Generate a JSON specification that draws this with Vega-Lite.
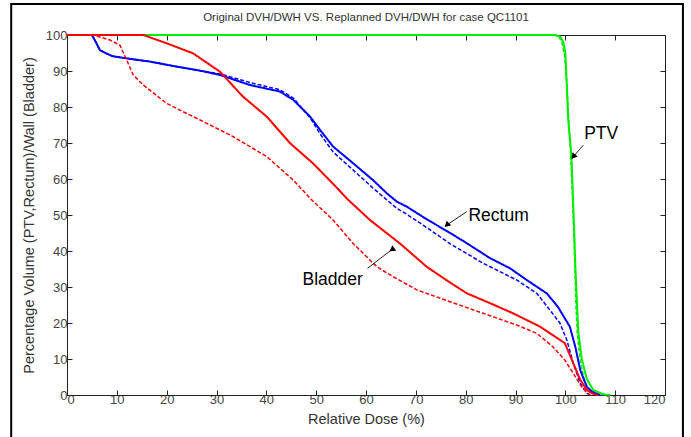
{
  "$schema": "https://vega.github.io/schema/vega-lite/v6.json",
  "width": 598,
  "height": 360,
  "autosize": {"type": "none"},
  "padding": {"left": 67, "top": 35, "right": 26, "bottom": 42},
  "background": "white",
  "title": {"text": "Original DVH/DWH VS. Replanned DVH/DWH for case QC1101", "font": "Liberation Sans", "fontSize": 11.5, "fontWeight": "normal", "color": "#333333", "anchor": "middle", "frame": "group", "offset": -20},
  "config": {
    "view": {"stroke": null},
    "axis": {"grid": false, "domainColor": "#222222", "domainWidth": 1, "tickColor": "#222222", "tickSize": -5, "tickWidth": 1, "labelFont": "Liberation Sans", "labelFontSize": 13, "labelColor": "#444444", "titleFont": "Liberation Sans", "titleFontSize": 14.5, "titleFontWeight": "normal", "titleColor": "#333333"}
  },
  "datasets": {
    "curves": [
      {"organ": "PTV", "plan": "Original", "dose": 0, "volume": 100},
      {"organ": "PTV", "plan": "Original", "dose": 98, "volume": 100},
      {"organ": "PTV", "plan": "Original", "dose": 99, "volume": 99.5},
      {"organ": "PTV", "plan": "Original", "dose": 99.6, "volume": 98},
      {"organ": "PTV", "plan": "Original", "dose": 100, "volume": 95},
      {"organ": "PTV", "plan": "Original", "dose": 100.3, "volume": 86},
      {"organ": "PTV", "plan": "Original", "dose": 100.6, "volume": 76},
      {"organ": "PTV", "plan": "Original", "dose": 101.2, "volume": 67},
      {"organ": "PTV", "plan": "Original", "dose": 101.5, "volume": 56},
      {"organ": "PTV", "plan": "Original", "dose": 101.8, "volume": 45},
      {"organ": "PTV", "plan": "Original", "dose": 102, "volume": 36},
      {"organ": "PTV", "plan": "Original", "dose": 102.3, "volume": 26.5},
      {"organ": "PTV", "plan": "Original", "dose": 102.6, "volume": 17.5},
      {"organ": "PTV", "plan": "Original", "dose": 103.3, "volume": 10},
      {"organ": "PTV", "plan": "Original", "dose": 104.3, "volume": 4.5},
      {"organ": "PTV", "plan": "Original", "dose": 105.6, "volume": 1.4},
      {"organ": "PTV", "plan": "Original", "dose": 107.6, "volume": 0.2},
      {"organ": "PTV", "plan": "Original", "dose": 109, "volume": 0},
      {"organ": "PTV", "plan": "Replanned", "dose": 0, "volume": 100},
      {"organ": "PTV", "plan": "Replanned", "dose": 97.8, "volume": 100},
      {"organ": "PTV", "plan": "Replanned", "dose": 98.8, "volume": 99.3},
      {"organ": "PTV", "plan": "Replanned", "dose": 99.4, "volume": 97.5},
      {"organ": "PTV", "plan": "Replanned", "dose": 99.9, "volume": 94},
      {"organ": "PTV", "plan": "Replanned", "dose": 100.3, "volume": 86},
      {"organ": "PTV", "plan": "Replanned", "dose": 100.7, "volume": 76},
      {"organ": "PTV", "plan": "Replanned", "dose": 101.1, "volume": 66},
      {"organ": "PTV", "plan": "Replanned", "dose": 101.4, "volume": 56},
      {"organ": "PTV", "plan": "Replanned", "dose": 101.7, "volume": 45},
      {"organ": "PTV", "plan": "Replanned", "dose": 101.9, "volume": 36},
      {"organ": "PTV", "plan": "Replanned", "dose": 102.1, "volume": 26},
      {"organ": "PTV", "plan": "Replanned", "dose": 102.4, "volume": 17},
      {"organ": "PTV", "plan": "Replanned", "dose": 103, "volume": 9.5},
      {"organ": "PTV", "plan": "Replanned", "dose": 103.8, "volume": 4},
      {"organ": "PTV", "plan": "Replanned", "dose": 104.8, "volume": 1.2},
      {"organ": "PTV", "plan": "Replanned", "dose": 106, "volume": 0.2},
      {"organ": "PTV", "plan": "Replanned", "dose": 107, "volume": 0},
      {"organ": "Rectum", "plan": "Original", "dose": 0, "volume": 100},
      {"organ": "Rectum", "plan": "Original", "dose": 5, "volume": 100},
      {"organ": "Rectum", "plan": "Original", "dose": 5.8, "volume": 98},
      {"organ": "Rectum", "plan": "Original", "dose": 6.6, "volume": 95.8},
      {"organ": "Rectum", "plan": "Original", "dose": 8, "volume": 94.8},
      {"organ": "Rectum", "plan": "Original", "dose": 9.2, "volume": 94.1},
      {"organ": "Rectum", "plan": "Original", "dose": 12, "volume": 93.5},
      {"organ": "Rectum", "plan": "Original", "dose": 16.7, "volume": 92.6},
      {"organ": "Rectum", "plan": "Original", "dose": 21.3, "volume": 91.4},
      {"organ": "Rectum", "plan": "Original", "dose": 26.7, "volume": 90.1},
      {"organ": "Rectum", "plan": "Original", "dose": 30.7, "volume": 88.9},
      {"organ": "Rectum", "plan": "Original", "dose": 36.7, "volume": 86.1},
      {"organ": "Rectum", "plan": "Original", "dose": 42.7, "volume": 84.3},
      {"organ": "Rectum", "plan": "Original", "dose": 45.4, "volume": 82},
      {"organ": "Rectum", "plan": "Original", "dose": 48.8, "volume": 77.3},
      {"organ": "Rectum", "plan": "Original", "dose": 50.8, "volume": 73.6},
      {"organ": "Rectum", "plan": "Original", "dose": 53.4, "volume": 69},
      {"organ": "Rectum", "plan": "Original", "dose": 57.4, "volume": 64.4},
      {"organ": "Rectum", "plan": "Original", "dose": 61.4, "volume": 59.7},
      {"organ": "Rectum", "plan": "Original", "dose": 64.2, "volume": 56},
      {"organ": "Rectum", "plan": "Original", "dose": 66.2, "volume": 53.7},
      {"organ": "Rectum", "plan": "Original", "dose": 68.2, "volume": 52.3},
      {"organ": "Rectum", "plan": "Original", "dose": 72.2, "volume": 48.8},
      {"organ": "Rectum", "plan": "Original", "dose": 75.9, "volume": 45.8},
      {"organ": "Rectum", "plan": "Original", "dose": 79.5, "volume": 42.8},
      {"organ": "Rectum", "plan": "Original", "dose": 84.9, "volume": 38},
      {"organ": "Rectum", "plan": "Original", "dose": 88.9, "volume": 35.2},
      {"organ": "Rectum", "plan": "Original", "dose": 92.3, "volume": 31.9},
      {"organ": "Rectum", "plan": "Original", "dose": 96.3, "volume": 28.2},
      {"organ": "Rectum", "plan": "Original", "dose": 98.5, "volume": 24.5},
      {"organ": "Rectum", "plan": "Original", "dose": 99.5, "volume": 22.2},
      {"organ": "Rectum", "plan": "Original", "dose": 100.9, "volume": 19},
      {"organ": "Rectum", "plan": "Original", "dose": 102, "volume": 13.4},
      {"organ": "Rectum", "plan": "Original", "dose": 103, "volume": 6.9},
      {"organ": "Rectum", "plan": "Original", "dose": 104.3, "volume": 2.3},
      {"organ": "Rectum", "plan": "Original", "dose": 105.3, "volume": 1},
      {"organ": "Rectum", "plan": "Original", "dose": 106.3, "volume": 0.3},
      {"organ": "Rectum", "plan": "Original", "dose": 107, "volume": 0},
      {"organ": "Rectum", "plan": "Replanned", "dose": 0, "volume": 100},
      {"organ": "Rectum", "plan": "Replanned", "dose": 5, "volume": 100},
      {"organ": "Rectum", "plan": "Replanned", "dose": 5.8, "volume": 98},
      {"organ": "Rectum", "plan": "Replanned", "dose": 6.6, "volume": 95.8},
      {"organ": "Rectum", "plan": "Replanned", "dose": 8, "volume": 94.8},
      {"organ": "Rectum", "plan": "Replanned", "dose": 9.2, "volume": 94.1},
      {"organ": "Rectum", "plan": "Replanned", "dose": 12, "volume": 93.5},
      {"organ": "Rectum", "plan": "Replanned", "dose": 16.7, "volume": 92.6},
      {"organ": "Rectum", "plan": "Replanned", "dose": 21.3, "volume": 91.4},
      {"organ": "Rectum", "plan": "Replanned", "dose": 26.7, "volume": 90.1},
      {"organ": "Rectum", "plan": "Replanned", "dose": 30.7, "volume": 89.2},
      {"organ": "Rectum", "plan": "Replanned", "dose": 36.7, "volume": 86.8},
      {"organ": "Rectum", "plan": "Replanned", "dose": 42.7, "volume": 84.8},
      {"organ": "Rectum", "plan": "Replanned", "dose": 45.4, "volume": 82.5},
      {"organ": "Rectum", "plan": "Replanned", "dose": 48.8, "volume": 77},
      {"organ": "Rectum", "plan": "Replanned", "dose": 50.8, "volume": 72.5},
      {"organ": "Rectum", "plan": "Replanned", "dose": 53.4, "volume": 67.5},
      {"organ": "Rectum", "plan": "Replanned", "dose": 57.4, "volume": 62.5},
      {"organ": "Rectum", "plan": "Replanned", "dose": 61.4, "volume": 57.5},
      {"organ": "Rectum", "plan": "Replanned", "dose": 66.2, "volume": 51.8},
      {"organ": "Rectum", "plan": "Replanned", "dose": 68.2, "volume": 50.2},
      {"organ": "Rectum", "plan": "Replanned", "dose": 72.2, "volume": 46.5},
      {"organ": "Rectum", "plan": "Replanned", "dose": 76.9, "volume": 42},
      {"organ": "Rectum", "plan": "Replanned", "dose": 83.5, "volume": 36.6},
      {"organ": "Rectum", "plan": "Replanned", "dose": 90.3, "volume": 31.9},
      {"organ": "Rectum", "plan": "Replanned", "dose": 94.3, "volume": 28.2},
      {"organ": "Rectum", "plan": "Replanned", "dose": 96.9, "volume": 23.6},
      {"organ": "Rectum", "plan": "Replanned", "dose": 98.9, "volume": 20},
      {"organ": "Rectum", "plan": "Replanned", "dose": 100.3, "volume": 15.3},
      {"organ": "Rectum", "plan": "Replanned", "dose": 101.6, "volume": 8.8},
      {"organ": "Rectum", "plan": "Replanned", "dose": 103, "volume": 3.2},
      {"organ": "Rectum", "plan": "Replanned", "dose": 104.3, "volume": 0.5},
      {"organ": "Rectum", "plan": "Replanned", "dose": 105, "volume": 0},
      {"organ": "Bladder", "plan": "Original", "dose": 0, "volume": 100},
      {"organ": "Bladder", "plan": "Original", "dose": 15.3, "volume": 100},
      {"organ": "Bladder", "plan": "Original", "dose": 20, "volume": 97.7},
      {"organ": "Bladder", "plan": "Original", "dose": 25.3, "volume": 94.9},
      {"organ": "Bladder", "plan": "Original", "dose": 30.7, "volume": 89.8},
      {"organ": "Bladder", "plan": "Original", "dose": 35.3, "volume": 82.9},
      {"organ": "Bladder", "plan": "Original", "dose": 40.1, "volume": 77.3},
      {"organ": "Bladder", "plan": "Original", "dose": 44.8, "volume": 69.9},
      {"organ": "Bladder", "plan": "Original", "dose": 49.4, "volume": 64.3},
      {"organ": "Bladder", "plan": "Original", "dose": 54.2, "volume": 57.5},
      {"organ": "Bladder", "plan": "Original", "dose": 56.2, "volume": 54.5},
      {"organ": "Bladder", "plan": "Original", "dose": 60.8, "volume": 48.6},
      {"organ": "Bladder", "plan": "Original", "dose": 66.8, "volume": 42.1},
      {"organ": "Bladder", "plan": "Original", "dose": 72.2, "volume": 35.6},
      {"organ": "Bladder", "plan": "Original", "dose": 76.9, "volume": 31.2},
      {"organ": "Bladder", "plan": "Original", "dose": 80.3, "volume": 28.2},
      {"organ": "Bladder", "plan": "Original", "dose": 84.9, "volume": 25.5},
      {"organ": "Bladder", "plan": "Original", "dose": 89.5, "volume": 22.7},
      {"organ": "Bladder", "plan": "Original", "dose": 94.9, "volume": 19},
      {"organ": "Bladder", "plan": "Original", "dose": 99.9, "volume": 14.4},
      {"organ": "Bladder", "plan": "Original", "dose": 101.6, "volume": 8.8},
      {"organ": "Bladder", "plan": "Original", "dose": 103, "volume": 4.2},
      {"organ": "Bladder", "plan": "Original", "dose": 104.3, "volume": 1.4},
      {"organ": "Bladder", "plan": "Original", "dose": 105.6, "volume": 0.3},
      {"organ": "Bladder", "plan": "Original", "dose": 106.5, "volume": 0},
      {"organ": "Bladder", "plan": "Replanned", "dose": 0, "volume": 100},
      {"organ": "Bladder", "plan": "Replanned", "dose": 5.3, "volume": 100},
      {"organ": "Bladder", "plan": "Replanned", "dose": 8.6, "volume": 98.6},
      {"organ": "Bladder", "plan": "Replanned", "dose": 10.6, "volume": 97.2},
      {"organ": "Bladder", "plan": "Replanned", "dose": 12, "volume": 93},
      {"organ": "Bladder", "plan": "Replanned", "dose": 13.3, "volume": 88.9},
      {"organ": "Bladder", "plan": "Replanned", "dose": 15.3, "volume": 86.1},
      {"organ": "Bladder", "plan": "Replanned", "dose": 20, "volume": 81},
      {"organ": "Bladder", "plan": "Replanned", "dose": 24, "volume": 78.2},
      {"organ": "Bladder", "plan": "Replanned", "dose": 26.7, "volume": 76.4},
      {"organ": "Bladder", "plan": "Replanned", "dose": 33.3, "volume": 71.8},
      {"organ": "Bladder", "plan": "Replanned", "dose": 40.1, "volume": 66.2},
      {"organ": "Bladder", "plan": "Replanned", "dose": 45.4, "volume": 59.7},
      {"organ": "Bladder", "plan": "Replanned", "dose": 49.1, "volume": 54.2},
      {"organ": "Bladder", "plan": "Replanned", "dose": 53.4, "volume": 48.6},
      {"organ": "Bladder", "plan": "Replanned", "dose": 57.4, "volume": 42.1},
      {"organ": "Bladder", "plan": "Replanned", "dose": 62.2, "volume": 35.6},
      {"organ": "Bladder", "plan": "Replanned", "dose": 65.4, "volume": 32.9},
      {"organ": "Bladder", "plan": "Replanned", "dose": 70.2, "volume": 29.2},
      {"organ": "Bladder", "plan": "Replanned", "dose": 76.9, "volume": 25.9},
      {"organ": "Bladder", "plan": "Replanned", "dose": 83.5, "volume": 22.7},
      {"organ": "Bladder", "plan": "Replanned", "dose": 90.3, "volume": 19.4},
      {"organ": "Bladder", "plan": "Replanned", "dose": 94.3, "volume": 17.1},
      {"organ": "Bladder", "plan": "Replanned", "dose": 97.5, "volume": 13.4},
      {"organ": "Bladder", "plan": "Replanned", "dose": 99.9, "volume": 9.7},
      {"organ": "Bladder", "plan": "Replanned", "dose": 101.6, "volume": 6},
      {"organ": "Bladder", "plan": "Replanned", "dose": 103, "volume": 2.8},
      {"organ": "Bladder", "plan": "Replanned", "dose": 104.3, "volume": 0.6},
      {"organ": "Bladder", "plan": "Replanned", "dose": 105, "volume": 0}
    ],
    "notes": [
      {"label": "PTV", "dose": 107.2, "volume": 72.5},
      {"label": "Rectum", "dose": 86.6, "volume": 49.7},
      {"label": "Bladder", "dose": 53.3, "volume": 31.9}
    ],
    "arrows": [
      {"label": "PTV", "fromDose": 103.6, "fromVolume": 69.4, "toDose": 101.6, "toVolume": 66.2},
      {"label": "Rectum", "fromDose": 80.2, "fromVolume": 50.9, "toDose": 76.2, "toVolume": 47.2},
      {"label": "Bladder", "fromDose": 60.3, "fromVolume": 35.2, "toDose": 65.2, "toVolume": 40.4}
    ]
  },
  "resolve": {"axis": {"x": "independent", "y": "independent"}},
  "layer": [
    {
      "data": {"values": [{}]},
      "mark": {"type": "rect", "fill": null, "stroke": "#000000", "strokeWidth": 2, "clip": false},
      "encoding": {
        "x": {"datum": -11.2, "type": "quantitative", "scale": {"domain": [0, 120], "nice": false, "zero": false}, "axis": null},
        "x2": {"datum": 123.6},
        "y": {"datum": 108.6, "type": "quantitative", "scale": {"domain": [0, 100], "nice": false, "zero": false}, "axis": null},
        "y2": {"datum": -14}
      }
    },
    {
      "data": {"name": "curves"},
      "mark": {"type": "line", "clip": false},
      "encoding": {
        "x": {"field": "dose", "type": "quantitative", "scale": {"domain": [0, 120], "nice": false, "zero": false},
              "axis": {"orient": "bottom", "values": [0, 10, 20, 30, 40, 50, 60, 70, 80, 90, 100, 110, 120], "title": "Relative Dose (%)", "labelPadding": 3, "titlePadding": 6}},
        "y": {"field": "volume", "type": "quantitative", "scale": {"domain": [0, 100], "nice": false, "zero": false},
              "axis": {"orient": "left", "values": [0, 10, 20, 30, 40, 50, 60, 70, 80, 90, 100], "title": "Percentage Volume (PTV,Rectum)/Wall (Bladder)", "labelPadding": 5, "titlePadding": 9}},
        "color": {"field": "organ", "type": "nominal", "scale": {"domain": ["Bladder", "Rectum", "PTV"], "range": ["#ff0000", "#0000ff", "#00ee00"]}, "legend": null},
        "strokeDash": {"field": "plan", "type": "nominal", "scale": {"domain": ["Original", "Replanned"], "range": [[1, 0], [4, 2]]}, "legend": null},
        "strokeWidth": {"field": "plan", "type": "nominal", "scale": {"domain": ["Original", "Replanned"], "range": [2, 1.5]}, "legend": null}
      }
    },
    {
      "data": {"name": "curves"},
      "mark": {"type": "point", "opacity": 0},
      "encoding": {
        "x": {"field": "dose", "type": "quantitative", "scale": {"domain": [0, 120], "nice": false, "zero": false},
              "axis": {"orient": "top", "values": [0, 10, 20, 30, 40, 50, 60, 70, 80, 90, 100, 110, 120], "labels": false, "title": null}},
        "y": {"field": "volume", "type": "quantitative", "scale": {"domain": [0, 100], "nice": false, "zero": false},
              "axis": {"orient": "right", "values": [0, 10, 20, 30, 40, 50, 60, 70, 80, 90, 100], "labels": false, "title": null}}
      }
    },
    {
      "data": {"name": "arrows"},
      "mark": {"type": "rule", "color": "#222222", "strokeWidth": 1},
      "encoding": {
        "x": {"field": "fromDose", "type": "quantitative", "scale": {"domain": [0, 120], "nice": false, "zero": false}, "axis": null},
        "y": {"field": "fromVolume", "type": "quantitative", "scale": {"domain": [0, 100], "nice": false, "zero": false}, "axis": null},
        "x2": {"field": "toDose"},
        "y2": {"field": "toVolume"}
      }
    },
    {
      "data": {"name": "arrows"},
      "mark": {"type": "point", "shape": "triangle-up", "filled": true, "color": "#000000", "size": 45, "opacity": 1},
      "encoding": {
        "x": {"field": "toDose", "type": "quantitative", "scale": {"domain": [0, 120], "nice": false, "zero": false}, "axis": null},
        "y": {"field": "toVolume", "type": "quantitative", "scale": {"domain": [0, 100], "nice": false, "zero": false}, "axis": null},
        "angle": {"field": "label", "type": "nominal", "scale": {"domain": ["PTV", "Rectum", "Bladder"], "range": [220, 235, 54]}, "legend": null}
      }
    },
    {
      "data": {"name": "notes"},
      "mark": {"type": "text", "font": "Liberation Sans", "fontSize": 17.5, "color": "#000000", "align": "center", "baseline": "middle"},
      "encoding": {
        "x": {"field": "dose", "type": "quantitative", "scale": {"domain": [0, 120], "nice": false, "zero": false}, "axis": null},
        "y": {"field": "volume", "type": "quantitative", "scale": {"domain": [0, 100], "nice": false, "zero": false}, "axis": null},
        "text": {"field": "label", "type": "nominal"}
      }
    }
  ]
}
